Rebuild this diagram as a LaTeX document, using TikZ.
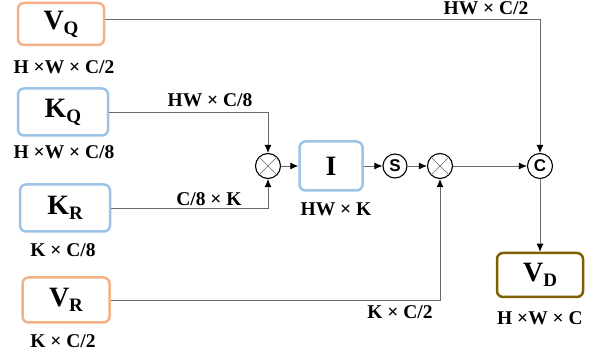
\documentclass[tikz,border=0pt]{standalone}
\usepackage{fontspec}
\setmainfont{Liberation Serif}
\setsansfont{Liberation Sans}
\usetikzlibrary{arrows.meta}
\definecolor{vorange}{HTML}{F4B183}
\definecolor{kblue}{HTML}{9DC3E6}
\definecolor{dbrown}{HTML}{7F6000}
\definecolor{lgray}{HTML}{6A6A6A}
\newcommand{\fsub}[1]{\raisebox{-0.4ex}{\fontsize{19}{19}\selectfont #1}}
\tikzset{
  feat/.style={draw, rounded corners=6pt, line width=2.5pt, inner sep=0pt,
    font=\fontsize{28}{30}\selectfont\bfseries},
  dimlabel/.style={font=\fontsize{19.5}{21}\selectfont\bfseries},
  opnode/.style={draw, circle, line width=1.1pt, minimum size=25pt, inner sep=0pt,
    font=\fontsize{17}{17}\selectfont\sffamily\bfseries},
  flow/.style={draw=lgray, line width=0.9pt, -{Latex[black,length=8pt,width=7pt]}}
}
\begin{document}
\begin{tikzpicture}[x=1pt, y=-1pt]
  \useasboundingbox (0,0) rectangle (598,358);
  % Feature maps
  \node[feat, draw=vorange, minimum width=86pt, minimum height=42pt] (vq) at (61,24) {V\fsub{Q}};
  \node[feat, draw=kblue, minimum width=90pt, minimum height=47pt] (kq) at (63,112) {K\fsub{Q}};
  \node[feat, draw=kblue, minimum width=90pt, minimum height=47pt] (kr) at (65,208) {K\fsub{R}};
  \node[feat, draw=vorange, minimum width=87pt, minimum height=45pt] (vr) at (66,300) {V\fsub{R}};
  \node[feat, draw=kblue, minimum width=63pt, minimum height=49pt] (imap) at (331,166) {I};
  \node[feat, draw=dbrown, minimum width=86pt, minimum height=44pt] (vd) at (540,275) {V\fsub{D}};
  % Operators
  \node[opnode] (m1) at (268,166) {};
  \node[opnode, minimum size=24pt] (s) at (395,166) {S};
  \node[opnode] (m2) at (440,166) {};
  \node[opnode] (cc) at (540,166) {C};
  \foreach \m in {m1,m2}
    \draw[lgray, line width=0.6pt] (\m.north east) -- (\m.south west) (\m.north west) -- (\m.south east);
  % Shapes
  \node[dimlabel] (lvq) at (64,67) {H ×W × C/2};
  \node[dimlabel] (lkq) at (64,152) {H ×W × C/8};
  \node[dimlabel] (lkr) at (63,250) {K × C/8};
  \node[dimlabel] (lvr) at (63,341) {K × C/2};
  \node[dimlabel] (lhwc8) at (210,100) {HW × C/8};
  \node[dimlabel] (lc8k) at (209,199) {C/8 × K};
  \node[dimlabel] (li) at (336,209) {HW × K};
  \node[dimlabel] (lhwc2) at (486,8) {HW × C/2};
  \node[dimlabel] (lkc2) at (400,312) {K × C/2};
  \node[dimlabel] (lvd) at (540,318) {H ×W × C};
  % Connectors
  \draw[flow] ([yshift=5pt]vq.east) -| (cc.north);
  \draw[flow] (kq.east) -| (m1.north);
  \draw[flow] (kr.east) -| (m1.south);
  \draw[flow] (vr.east) -| (m2.south);
  \draw[flow] (m1.east) -- (imap.west);
  \draw[flow] (imap.east) -- (s.west);
  \draw[flow] (s.east) -- (m2.west);
  \draw[flow] (m2.east) -- (cc.west);
  \draw[flow] (cc.south) -- (vd.north);
\end{tikzpicture}
\end{document}
